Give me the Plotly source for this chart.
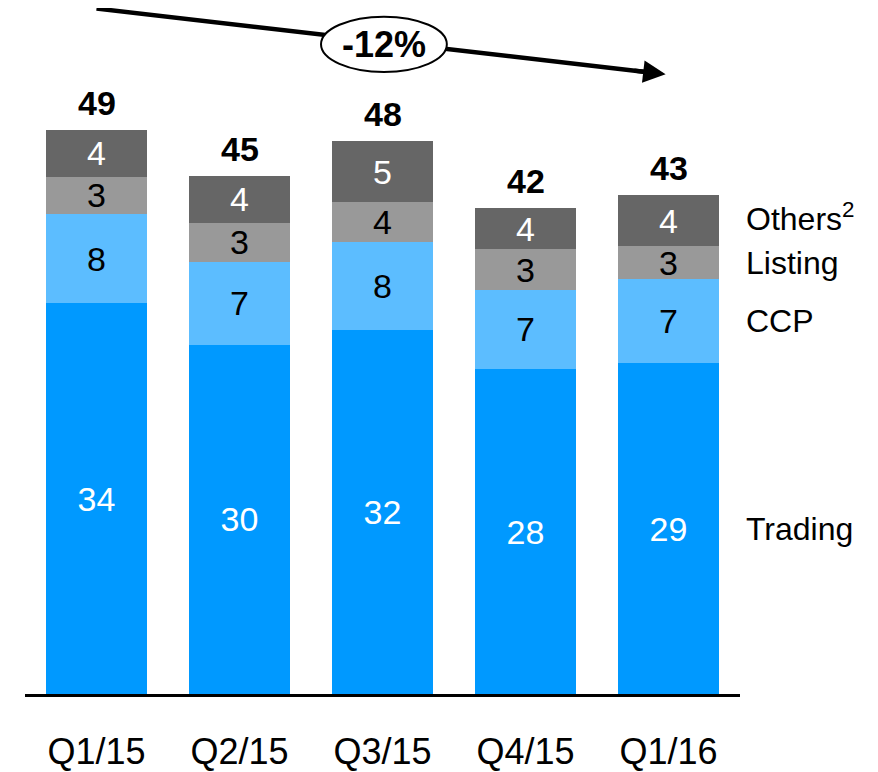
import plotly.graph_objects as go

categories = ["Q1/15", "Q2/15", "Q3/15", "Q4/15", "Q1/16"]
trading = [33.9, 30.3, 31.6, 28.2, 28.7]
ccp = [7.8, 7.2, 7.6, 6.9, 7.3]
listing = [3.2, 3.4, 3.5, 3.5, 2.9]
others = [4.1, 4.1, 5.3, 3.6, 4.4]

trading_lbl = [34, 30, 32, 28, 29]
ccp_lbl = [8, 7, 8, 7, 7]
listing_lbl = [3, 3, 4, 3, 3]
others_lbl = [4, 4, 5, 4, 4]
totals_lbl = [49, 45, 48, 42, 43]

series_names = ["Trading", "CCP", "Listing", "Others<sup>2</sup>"]
change_label = "-12%"

FONT = "Arial, Liberation Sans, sans-serif"
colors = ["#0099FF", "#5CBDFF", "#999999", "#666666"]
text_colors = ["white", "black", "black", "white"]

fig = go.Figure()
series = [trading, ccp, listing, others]
labels = [trading_lbl, ccp_lbl, listing_lbl, others_lbl]
for vals, lbls, col, tcol, name in zip(series, labels, colors, text_colors, series_names):
    fig.add_trace(go.Bar(
        x=categories, y=vals, name=name, marker=dict(color=col, line=dict(width=0)),
        text=[str(v) for v in lbls], textposition="inside", insidetextanchor="middle",
        textfont=dict(family=FONT, size=34, color=tcol), textangle=0,
        hoverinfo="skip",
    ))

totals = [a + b + c + d for a, b, c, d in zip(trading, ccp, listing, others)]
for cat, t, lbl in zip(categories, totals, totals_lbl):
    fig.add_annotation(x=cat, y=t, xref="x", yref="y", text=f"<b>{lbl}</b>",
                       showarrow=False, yanchor="middle", yshift=27,
                       font=dict(family=FONT, size=34, color="black"))

# Legend labels on the right aligned with last bar segments
cum = 0
for vals, name in zip(series, series_names):
    center = cum + vals[-1] / 2
    cum += vals[-1]
    fig.add_annotation(x=1.006, xref="paper", y=center, yref="y", text=name,
                       showarrow=False, xanchor="left", yanchor="middle",
                       yshift=4 if "sup" in name else 0,
                       font=dict(family=FONT, size=32, color="black"))

# Trend arrow: line shape, ellipse over it, arrowhead annotation at the tip
x_start, y_start = 0.0, 59.5
x_end, y_end = 3.98, 53.8
slope = (y_end - y_start) / (x_end - x_start)
x_back = 3.75
y_back = y_start + slope * (x_back - x_start)
fig.add_shape(type="line", xref="x", yref="y", x0=x_start, y0=y_start, x1=3.9,
              y1=y_start + slope * (3.9 - x_start), line=dict(color="black", width=4.5))
fig.add_shape(type="circle", xref="x", yref="y", x0=1.57, x1=2.45, y0=54.0, y1=58.8,
              fillcolor="white", line=dict(color="black", width=2))
fig.add_annotation(x=x_end, y=y_end, ax=x_back, ay=y_back, xref="x", yref="y",
                   axref="x", ayref="y", text="", showarrow=True, arrowhead=2,
                   arrowsize=1.0, arrowwidth=4.5, arrowcolor="black")
fig.add_annotation(x=2.01, y=56.4, xref="x", yref="y", text=f"<b>{change_label}</b>",
                   showarrow=False, font=dict(family=FONT, size=36, color="black"))

fig.update_layout(
    barmode="stack", bargap=0.287, showlegend=False,
    width=870, height=764, margin=dict(l=17, r=138, t=0, b=75),
    plot_bgcolor="white", paper_bgcolor="white",
    xaxis=dict(showline=True, linecolor="black", linewidth=3, ticks="", showgrid=False,
               tickfont=dict(family=FONT, size=36, color="black"), ticklabelstandoff=24,
               range=[-0.5, 4.5], fixedrange=True),
    yaxis=dict(visible=False, range=[0, 59.55], showgrid=False, zeroline=False),
    uniformtext=dict(minsize=34, mode="show"),
)

fig.write_html("out.html")
